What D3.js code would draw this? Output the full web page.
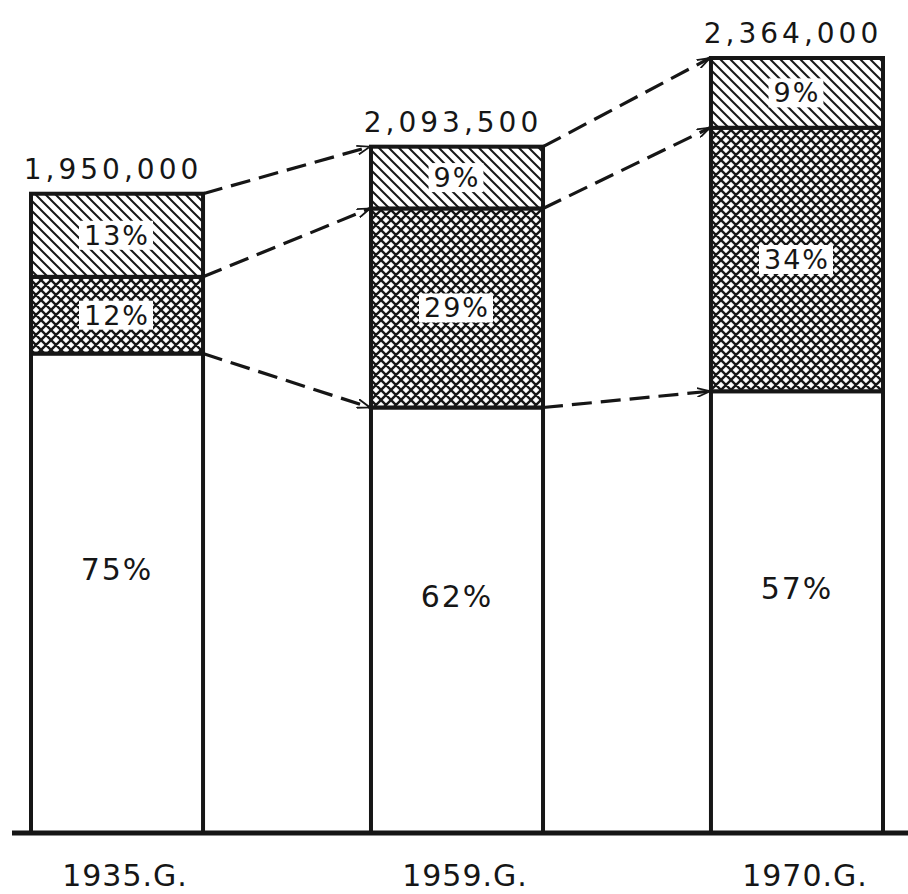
<!DOCTYPE html>
<html>
<head>
<meta charset="utf-8">
<script src="https://cdnjs.cloudflare.com/ajax/libs/d3/7.8.5/d3.min.js"></script>
<style>
  html, body { margin: 0; padding: 0; background: #fff; }
  svg { display: block; }
  text { font-family: "DejaVu Sans", sans-serif; fill: #161616; }
</style>
</head>
<body>
<div id="chart"></div>
<script>
// data
var years        = ['1935.G.', '1959.G.', '1970.G.'];
var totals       = [1950000, 2093500, 2364000];
var share_white  = [75, 62, 57];
var share_cross  = [12, 29, 34];
var share_hatch  = [13, 9, 9];

var W = 908, H = 894;
var ink = '#161616';

var svg = d3.select('#chart').append('svg')
  .attr('width', W)
  .attr('height', H);

var defs = svg.append('defs');

// diagonal hatch, lines running down to the right
var hatch = defs.append('pattern')
  .attr('id', 'hatch')
  .attr('patternUnits', 'userSpaceOnUse')
  .attr('width', 10)
  .attr('height', 10);
hatch.append('rect').attr('width', 10).attr('height', 10).attr('fill', '#fff');
hatch.append('path')
  .attr('d', 'M-3,-3 L13,13 M-3,7 L3,13 M7,-3 L13,3')
  .attr('stroke', ink)
  .attr('stroke-width', 2);

// cross hatch, dark net with white diamonds
var cross = defs.append('pattern')
  .attr('id', 'cross')
  .attr('patternUnits', 'userSpaceOnUse')
  .attr('width', 10)
  .attr('height', 10);
cross.append('rect').attr('width', 10).attr('height', 10).attr('fill', '#fff');
cross.append('path')
  .attr('d', 'M-2,-2 L12,12 M-2,8 L2,12 M8,-2 L12,2 M12,-2 L-2,12 M2,-2 L-2,2 M12,8 L8,12')
  .attr('stroke', ink)
  .attr('stroke-width', 2.4);

var marker = defs.append('marker')
  .attr('id', 'arrow')
  .attr('viewBox', '0 0 14 10')
  .attr('refX', 13)
  .attr('refY', 5)
  .attr('markerWidth', 14)
  .attr('markerHeight', 10)
  .attr('markerUnits', 'userSpaceOnUse')
  .attr('orient', 'auto');
marker.append('path')
  .attr('d', 'M0,0.5 L13,5 L0,9.5')
  .attr('fill', 'none')
  .attr('stroke', ink)
  .attr('stroke-width', 1.8);

var base_y = 833;

var x = d3.scaleBand()
  .domain(years)
  .range([31, 883])
  .paddingInner(0.494)
  .paddingOuter(0);

var y = d3.scaleLinear()
  .domain([0, d3.max(totals)])
  .range([base_y, 58]);

var bw = x.bandwidth();

// segments as absolute values, bottom to top
var rows = years.map((yr, i) => {
  var t = totals[i];
  var w = t * share_white[i] / 100;
  var c = t * share_cross[i] / 100;
  return {
    year: yr,
    total: t,
    segs: [
      { kind: 'white', y0: 0, y1: w, pct: share_white[i] },
      { kind: 'cross', y0: w, y1: w + c, pct: share_cross[i] },
      { kind: 'hatch', y0: w + c, y1: t, pct: share_hatch[i] }
    ]
  };
});

var fills = { white: '#fff', cross: 'url(#cross)', hatch: 'url(#hatch)' };

var bars = svg.selectAll('g.bar')
  .data(rows)
  .enter()
  .append('g')
  .attr('class', 'bar')
  .attr('transform', (d) => `translate(${ x(d.year) },0)`);

bars.selectAll('rect.seg')
  .data((d) => d.segs)
  .enter()
  .append('rect')
  .attr('class', 'seg')
  .attr('x', 0)
  .attr('width', bw)
  .attr('y', (d) => y(d.y1))
  .attr('height', (d) => y(d.y0) - y(d.y1))
  .attr('fill', (d) => fills[d.kind])
  .attr('stroke', ink)
  .attr('stroke-width', 4);

// percent labels
bars.each(function(d) {
  var g = d3.select(this);
  d.segs.forEach((s) => {
    var cy = (y(s.y0) + y(s.y1)) / 2;
    var fs = 27;
    if (s.kind === 'white') { cy -= 24; fs = 30; }
    var t = g.append('text')
      .attr('x', bw / 2)
      .attr('y', cy)
      .attr('text-anchor', 'middle')
      .attr('dominant-baseline', 'central')
      .attr('font-size', fs)
      .attr('letter-spacing', 2)
      .text(`${ s.pct }%`);
    if (s.kind !== 'white') {
      var bb = t.node().getBBox();
      g.insert('rect', 'text')
        .attr('x', bb.x - 5)
        .attr('y', bb.y + 1)
        .attr('width', bb.width + 8)
        .attr('height', bb.height - 2)
        .attr('fill', '#fff');
    }
  });
});

// totals above the bars
bars.append('text')
  .attr('x', bw / 2 - 4)
  .attr('y', (d) => y(d.total) - 15)
  .attr('text-anchor', 'middle')
  .attr('font-size', 28)
  .attr('letter-spacing', 4)
  .text((d) => d3.format(',')(d.total));

// dashed arrows between matching boundaries
var links = [];
for (var i = 0; i < rows.length - 1; i++) {
  [0, 1, 2].forEach((k) => {
    links.push({
      x1: x(rows[i].year) + bw,
      y1: y(rows[i].segs[k].y1),
      x2: x(rows[i + 1].year) - 1,
      y2: y(rows[i + 1].segs[k].y1)
    });
  });
}

svg.selectAll('line.link')
  .data(links)
  .enter()
  .append('line')
  .attr('class', 'link')
  .attr('x1', (d) => d.x1)
  .attr('y1', (d) => d.y1)
  .attr('x2', (d) => d.x2)
  .attr('y2', (d) => d.y2)
  .attr('stroke', ink)
  .attr('stroke-width', 3.2)
  .attr('stroke-dasharray', '20 9')
  .attr('marker-end', 'url(#arrow)');

// ground line
svg.append('line')
  .attr('x1', 12)
  .attr('x2', W)
  .attr('y1', base_y)
  .attr('y2', base_y)
  .attr('stroke', ink)
  .attr('stroke-width', 5);

// year labels
var ax = svg.append('g')
  .attr('transform', `translate(8,${ base_y })`)
  .call(d3.axisBottom(x).tickSize(0).tickPadding(32));

ax.select('.domain').remove();
ax.selectAll('text')
  .attr('font-size', 30)
  .attr('letter-spacing', 1)
  .style('font-family', '"DejaVu Sans", sans-serif')
  .attr('fill', ink);
</script>
</body>
</html>
